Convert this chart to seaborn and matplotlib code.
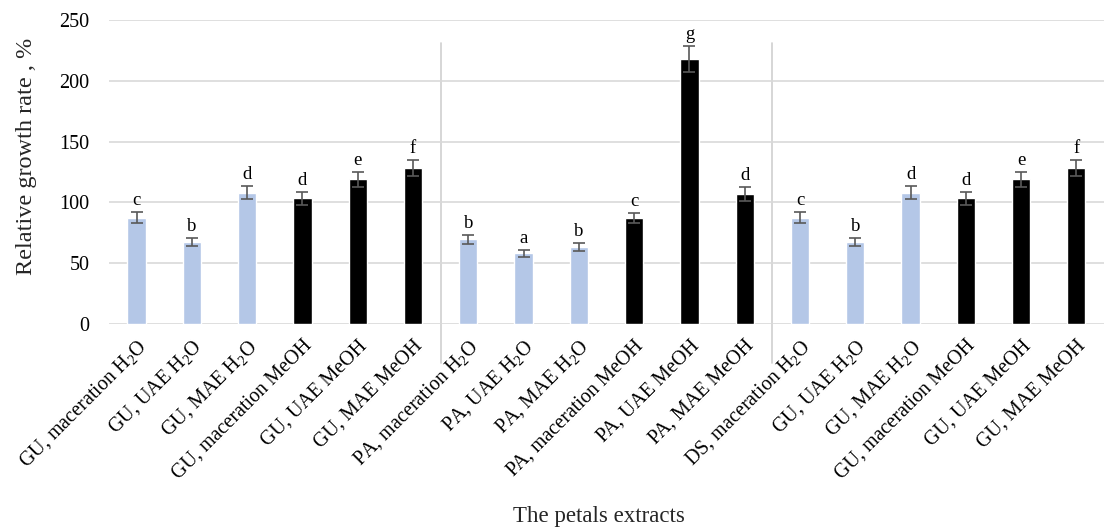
import matplotlib
matplotlib.use("Agg")
import matplotlib.pyplot as plt
import seaborn as sns
import pandas as pd
import numpy as np

H2O = r"H$_\mathregular{2}$O"
labels = ["GU, maceration " + H2O, "GU, UAE " + H2O, "GU, MAE " + H2O,
          "GU, maceration MeOH", "GU, UAE MeOH", "GU, MAE MeOH",
          "PA, maceration " + H2O, "PA, UAE " + H2O, "PA, MAE " + H2O,
          "PA, maceration MeOH", "PA, UAE MeOH", "PA, MAE MeOH",
          "DS, maceration " + H2O, "GU, UAE " + H2O, "GU, MAE " + H2O,
          "GU, maceration MeOH", "GU, UAE MeOH", "GU, MAE MeOH"]
values = [87.5, 67.5, 108, 103.5, 119, 128.5,
          69.5, 58, 63.5, 87, 218, 107,
          87.5, 67.5, 108, 103.5, 119, 128.5]
errors = [4.6, 3.4, 5.6, 5.3, 6.2, 6.6,
          3.7, 3.0, 3.4, 4.4, 11, 5.5,
          4.6, 3.4, 5.6, 5.3, 6.2, 6.6]
letters = ["c", "b", "d", "d", "e", "f",
           "b", "a", "b", "c", "g", "d",
           "c", "b", "d", "d", "e", "f"]
solvent = ["H2O", "H2O", "H2O", "MeOH", "MeOH", "MeOH"] * 3
group_size = 6

sns.set_style("white")
plt.rcParams['font.family'] = ['Liberation Serif', 'DejaVu Serif']
plt.rcParams['mathtext.default'] = 'regular'

df = pd.DataFrame({"idx": np.arange(len(values)), "value": values,
                   "solvent": solvent})

fig = plt.figure(figsize=(11.04, 5.30), dpi=100)
ax = fig.add_axes([0.0987, 0.389, 0.9013, 0.573])

sns.barplot(data=df, x="idx", y="value", hue="solvent",
            palette={"H2O": "#b4c7e7", "MeOH": "#000000"},
            dodge=False, width=0.33, legend=False, ax=ax, errorbar=None,
            saturation=1)

x = df["idx"].to_numpy()
ax.errorbar(x, values, yerr=errors, fmt="none", ecolor="#595959",
            elinewidth=1.2, capsize=4, capthick=1.2, zorder=3)

for xi, v, e, l in zip(x, values, errors, letters):
    ax.annotate(l, (xi, v + e), xytext=(0, 2), textcoords="offset points",
                ha="center", va="bottom", fontsize=13.5, color="#000000")

ax.set_ylim(0, 250)
ax.set_xlim(-0.5, len(values) - 0.5)
ax.set_yticks(np.arange(0, 251, 50))
ax.yaxis.grid(True, color="#d9d9d9", linewidth=1.2)
ax.set_axisbelow(True)
for s in ax.spines.values():
    s.set_visible(False)
ax.tick_params(axis="both", length=0, labelsize=14.5, colors="#000000")
ax.tick_params(axis="y", pad=14)
ax.set_xticks(x)
ax.set_xticklabels(labels, rotation=45, ha="right", rotation_mode="anchor",
                   fontsize=14.5)
ax.tick_params(axis="x", pad=9)

for b in range(group_size, len(values), group_size):
    ax.plot([b - 0.5, b - 0.5], [0.924, -0.13], color="#d0d0d0",
            linewidth=1.2, transform=ax.get_xaxis_transform(), clip_on=False,
            zorder=0)

ax.set_xlabel("The petals extracts", fontsize=16.5)
ax.set_ylabel("Relative growth rate , %", fontsize=17.5)
ax.xaxis.set_label_coords(0.492, -0.6)
ax.yaxis.set_label_coords(-0.072, 0.55)

fig.savefig("out.png", dpi=100)
